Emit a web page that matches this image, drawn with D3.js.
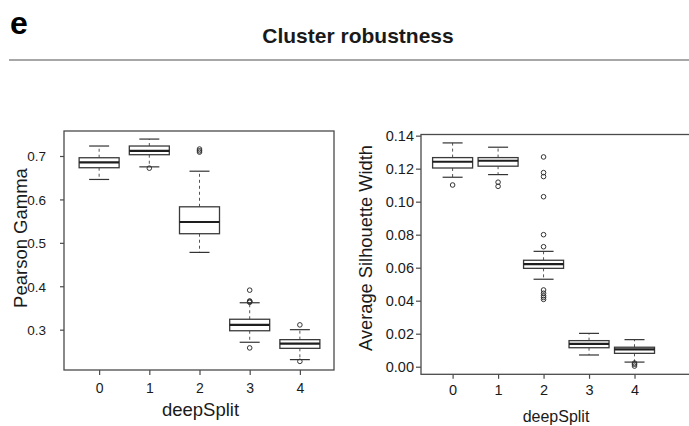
<!DOCTYPE html>
<html>
<head>
<meta charset="utf-8">
<script src="https://cdn.jsdelivr.net/npm/d3@7"></script>
<style>
  html, body { margin: 0; padding: 0; background: #fff; }
  svg { display: block; font-family: "Liberation Sans", Arial, Helvetica, sans-serif; }
</style>
</head>
<body>
<svg id="chart" width="689" height="426"></svg>
<script>
// deepSplit levels shared by both panels
const deepSplit = ["0", "1", "2", "3", "4"];

// Pearson Gamma: box statistics per deepSplit level
const gammaLowerWhisker = [0.646, 0.675, 0.478, 0.271, 0.231];
const gammaQ1           = [0.673, 0.703, 0.521, 0.2975, 0.257];
const gammaMedian       = [0.6855, 0.712, 0.548, 0.311, 0.268];
const gammaQ3           = [0.696, 0.723, 0.583, 0.324, 0.277];
const gammaUpperWhisker = [0.723, 0.739, 0.665, 0.362, 0.300];
const gammaOutliers     = [
  [],
  [0.672],
  [0.709, 0.712, 0.716],
  [0.258, 0.363, 0.365, 0.366, 0.391],
  [0.227, 0.311]
];
const gammaTicks = [0.3, 0.4, 0.5, 0.6, 0.7];

// Average Silhouette Width: box statistics per deepSplit level
const silLowerWhisker = [0.1148, 0.1164, 0.0530, 0.0071, 0.0028];
const silQ1           = [0.1204, 0.1215, 0.0596, 0.0115, 0.0081];
const silMedian       = [0.1242, 0.1248, 0.0622, 0.0138, 0.0105];
const silQ3           = [0.1267, 0.1267, 0.0645, 0.0158, 0.0118];
const silUpperWhisker = [0.1356, 0.1330, 0.0699, 0.0202, 0.0164];
const silOutliers     = [
  [0.1101],
  [0.1093, 0.1118],
  [0.0408, 0.0420, 0.0430, 0.0445, 0.0465, 0.0727, 0.0800, 0.1030, 0.1152, 0.1176, 0.1271],
  [],
  [0.0004, 0.0015, 0.0022]
];
const silTicks = [0, 0.02, 0.04, 0.06, 0.08, 0.10, 0.12, 0.14];

const svg = d3.select("#chart");
const ink = "#1a1a1a";
const frameColor = "#4a4a4a";

// Header: panel letter, title and rule
svg.append("text")
  .attr("x", 10).attr("y", 34)
  .attr("font-size", 32).attr("font-weight", "bold").attr("fill", "#000")
  .text("e");
svg.append("text")
  .attr("x", 358).attr("y", 43.3)
  .attr("text-anchor", "middle")
  .attr("font-size", 21).attr("font-weight", "bold").attr("fill", ink)
  .text("Cluster robustness");
svg.append("line")
  .attr("x1", 9).attr("x2", 689).attr("y1", 60).attr("y2", 60)
  .attr("stroke", "#8a8a8a").attr("stroke-width", 1.5);

function drawBoxPanel(p) {
  const g = svg.append("g");
  const x = d3.scaleLinear().domain(p.xDomain).range([p.left, p.right]);
  const y = d3.scaleLinear().domain(p.yDomain).range([p.bottom, p.top]);

  const rows = deepSplit.map((k, i) => ({
    key: k, i,
    lo: p.lo[i], q1: p.q1[i], med: p.med[i], q3: p.q3[i], hi: p.hi[i],
    out: p.out[i]
  }));

  const boxW = 40, capW = 20;
  const items = g.selectAll("g.box").data(rows).join("g").attr("class", "box");

  // dashed whiskers
  items.append("line")
    .attr("x1", d => x(d.i)).attr("x2", d => x(d.i))
    .attr("y1", d => y(d.q3)).attr("y2", d => y(d.hi))
    .attr("stroke", "#555").attr("stroke-width", 1).attr("stroke-dasharray", "3,3");
  items.append("line")
    .attr("x1", d => x(d.i)).attr("x2", d => x(d.i))
    .attr("y1", d => y(d.q1)).attr("y2", d => y(d.lo))
    .attr("stroke", "#555").attr("stroke-width", 1).attr("stroke-dasharray", "3,3");
  // whisker caps
  items.append("line")
    .attr("x1", d => x(d.i) - capW / 2).attr("x2", d => x(d.i) + capW / 2)
    .attr("y1", d => y(d.hi)).attr("y2", d => y(d.hi))
    .attr("stroke", "#333").attr("stroke-width", 1.2);
  items.append("line")
    .attr("x1", d => x(d.i) - capW / 2).attr("x2", d => x(d.i) + capW / 2)
    .attr("y1", d => y(d.lo)).attr("y2", d => y(d.lo))
    .attr("stroke", "#333").attr("stroke-width", 1.2);
  // box
  items.append("rect")
    .attr("x", d => x(d.i) - boxW / 2).attr("width", boxW)
    .attr("y", d => y(d.q3)).attr("height", d => y(d.q1) - y(d.q3))
    .attr("fill", "#fff").attr("stroke", "#3a3a3a").attr("stroke-width", 1.3);
  // median
  items.append("line")
    .attr("x1", d => x(d.i) - boxW / 2).attr("x2", d => x(d.i) + boxW / 2)
    .attr("y1", d => y(d.med)).attr("y2", d => y(d.med))
    .attr("stroke", "#1e1e1e").attr("stroke-width", 2.2);
  // outliers
  items.selectAll("circle").data(d => d.out.map(v => ({ i: d.i, v })))
    .join("circle")
    .attr("cx", d => x(d.i)).attr("cy", d => y(d.v)).attr("r", 2.3)
    .attr("fill", "none").attr("stroke", "#333").attr("stroke-width", 1);

  // frame
  g.append("rect")
    .attr("x", p.left).attr("y", p.top)
    .attr("width", p.right - p.left).attr("height", p.bottom - p.top)
    .attr("fill", "none").attr("stroke", frameColor).attr("stroke-width", 1.3);

  // y axis
  const ya = g.append("g").attr("transform", `translate(${p.left},0)`)
    .call(d3.axisLeft(y).tickValues(p.yTicks).tickFormat(d3.format(p.yFormat)).tickSize(p.yTickLen));
  ya.select(".domain").remove();
  ya.selectAll(".tick line").attr("stroke", frameColor).attr("stroke-width", 1.2);
  ya.selectAll(".tick text")
    .attr("x", -p.yLabelGap).attr("dy", "0.36em")
    .attr("font-size", p.yTickFont).attr("fill", ink).attr("font-family", null);

  // x axis
  const xa = g.append("g").attr("transform", `translate(0,${p.bottom})`)
    .call(d3.axisBottom(x).tickValues(d3.range(deepSplit.length))
      .tickFormat(i => deepSplit[i]).tickSize(p.xTickLen));
  xa.select(".domain").remove();
  xa.selectAll(".tick line").attr("stroke", frameColor).attr("stroke-width", 1.2);
  xa.selectAll(".tick text")
    .attr("y", p.xLabelBase).attr("dy", null)
    .attr("font-size", p.xTickFont).attr("fill", ink).attr("font-family", null);

  // axis titles
  g.append("text")
    .attr("transform", `translate(${p.yTitleX},${p.yTitleY}) rotate(-90)`)
    .attr("text-anchor", "middle")
    .attr("font-size", p.yTitleFont).attr("fill", ink)
    .text(p.yTitle);
  g.append("text")
    .attr("x", p.xTitleX).attr("y", p.xTitleY)
    .attr("text-anchor", "middle")
    .attr("font-size", p.xTitleFont).attr("fill", ink)
    .text("deepSplit");
}

drawBoxPanel({
  left: 64, right: 334, top: 131, bottom: 370,
  xDomain: [-0.7, 4.68], yDomain: [0.2071, 0.7576],
  lo: gammaLowerWhisker, q1: gammaQ1, med: gammaMedian, q3: gammaQ3, hi: gammaUpperWhisker,
  out: gammaOutliers,
  yTicks: gammaTicks, yFormat: ".1f", yTickLen: 4, yLabelGap: 18, yTickFont: 13.5,
  xTickLen: 5, xLabelBase: 22.7, xTickFont: 14,
  yTitle: "Pearson Gamma", yTitleX: 26.5, yTitleY: 238, yTitleFont: 18.5,
  xTitleX: 200.5, xTitleY: 415.7, xTitleFont: 18.5
});

drawBoxPanel({
  left: 421, right: 695, top: 134.5, bottom: 374.3,
  xDomain: [-0.695, 5.33], yDomain: [-0.0046, 0.1407],
  lo: silLowerWhisker, q1: silQ1, med: silMedian, q3: silQ3, hi: silUpperWhisker,
  out: silOutliers,
  yTicks: silTicks, yFormat: ".2f", yTickLen: 5, yLabelGap: 7, yTickFont: 14.5,
  xTickLen: 4.5, xLabelBase: 20.7, xTickFont: 14.5,
  yTitle: "Average Silhouette Width", yTitleX: 371.5, yTitleY: 248, yTitleFont: 18.3,
  xTitleX: 556, xTitleY: 421.5, xTitleFont: 16
});
</script>
</body>
</html>
